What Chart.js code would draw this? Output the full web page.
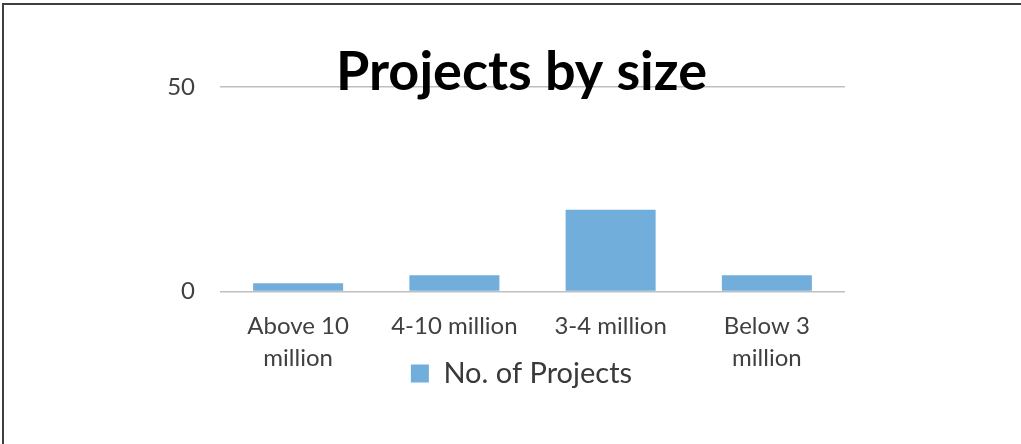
<!DOCTYPE html>
<html>
<head>
<meta charset="utf-8">
<script src="https://cdn.jsdelivr.net/npm/chart.js@4"></script>
<style>
  html, body { margin: 0; padding: 0; background: #fff; }
  #wrap { position: relative; width: 1021px; height: 444px; overflow: hidden; }
  #wrap::after {
    content: ''; position: absolute; left: 2px; top: 3px; right: -10px; bottom: -10px;
    border: 2px solid #3f3f3f; pointer-events: none;
  }
</style>
</head>
<body>
<div id="wrap"><canvas id="chart" width="1021" height="444"></canvas></div>
<script>
// values
const categories = [['Above 10', 'million'], '4-10 million', '3-4 million', ['Below 3', 'million']];
const projects = [2, 4, 20, 4];
const seriesName = 'No. of Projects';
const yTicks = [0, 50];

// tick labels are clipped to their scale box; widen the boxes so the
// labels can spill out like in the original (over the legend etc.)
const unclipTicks = {
    id: 'unclipTicks',
    afterLayout: (chart) => {
        const {x, y} = chart.scales;
        y.left = 0;
        y.width = y.right;
        x.bottom = chart.height;
        x.height = x.bottom - x.top;
    }
};

const config = {
    type: 'bar',
    data: {
        labels: categories,
        datasets: [{
            label: seriesName,
            data: projects,
            backgroundColor: '#71aedc',
            borderWidth: 0,
            barPercentage: 0.576,
            categoryPercentage: 1
        }]
    },
    options: {
        responsive: false,
        animation: false,
        layout: {
            padding: {left: 198, right: 176, top: 0, bottom: 46}
        },
        plugins: {
            title: {
                display: true,
                text: 'Projects by size',
                color: '#000',
                font: {family: 'Lato', size: 54, weight: 'bold', lineHeight: 1},
                padding: {top: 46, bottom: -13}
            },
            legend: {
                position: 'bottom',
                labels: {
                    color: '#3a3a3a',
                    font: {family: 'Lato', size: 29},
                    boxWidth: 18,
                    boxHeight: 18,
                    padding: 8
                }
            },
            tooltip: {enabled: false}
        },
        scales: {
            x: {
                grid: {display: false},
                border: {display: false},
                ticks: {
                    color: '#404040',
                    font: {family: 'Lato', size: 24, lineHeight: 1.32},
                    maxRotation: 0,
                    autoSkip: false,
                    padding: 11
                },
                afterFit: (scale) => { scale.height = 59.5; }
            },
            y: {
                min: yTicks[0],
                max: yTicks[yTicks.length - 1],
                afterBuildTicks: (scale) => { scale.ticks = yTicks.map(v => ({value: v})); },
                grid: {color: '#bfbfbf', lineWidth: 1.5, drawTicks: false},
                border: {display: false},
                ticks: {
                    color: '#404040',
                    font: {family: 'Lato', size: 24},
                    padding: 25
                },
                afterFit: (scale) => { scale.width = 22; }
            }
        }
    },
    plugins: [unclipTicks]
};

const projectsChart = new Chart(document.getElementById('chart'), config);
</script>
</body>
</html>
